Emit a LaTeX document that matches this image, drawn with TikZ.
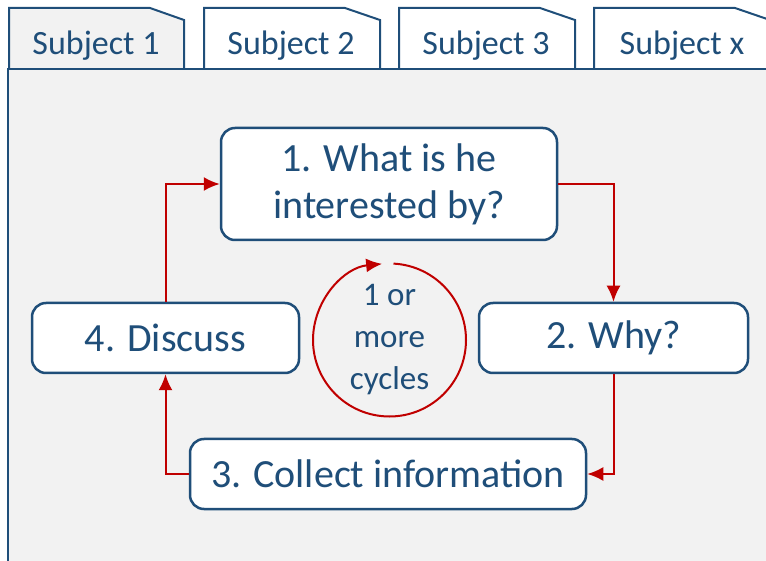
\documentclass[tikz,border=0pt]{standalone}
\usepackage{fontspec}
\setmainfont{Carlito}
\usetikzlibrary{arrows.meta}
\definecolor{navy}{HTML}{1F4E79}
\definecolor{cyclered}{HTML}{C00000}
\definecolor{panelgray}{HTML}{F2F2F2}

\begin{document}
\begin{tikzpicture}[x=1pt, y=1pt,
  tab/.style={draw=navy, line width=2pt, fill=#1},
  tablabel/.style={anchor=base, text=navy, font=\fontsize{34}{40}\selectfont},
  stepbox/.style={rectangle, draw=navy, line width=2.5pt, rounded corners=14pt, fill=white, text=navy, align=center, inner sep=0pt, font=\fontsize{40}{47}\selectfont},
  arrow/.style={-{Latex[length=16pt, width=14pt]}, line width=2pt, draw=cyclered}
]
  \useasboundingbox (0,0) rectangle (766,560);
  \clip (0,0) rectangle (766,560);

  % panel and tabs
  \fill[panelgray] (8,-20) rectangle (790,491);
  \draw[navy, line width=2pt] (8,-20) -- (8,491);
  \draw[tab=panelgray] (9,491) -- (9,552) -- (150,552) -- (184,540) -- (184,491);
  \draw[tab=white] (204,491) -- (204,552) -- (345,552) -- (380,540) -- (380,491);
  \draw[tab=white] (399,491) -- (399,552) -- (540,552) -- (575,540) -- (575,491);
  \draw[tab=white] (594,491) -- (594,552) -- (735,552) -- (770,540) -- (770,491);
  \draw[navy, line width=2pt] (7,491) -- (790,491);

  \node[tablabel] (tab1) at (96,505)  {Subject 1};
  \node[tablabel] (tab2) at (291,505) {Subject 2};
  \node[tablabel] (tab3) at (486,505) {Subject 3};
  \node[tablabel] (tabx) at (682,505) {Subject x};

  % steps of the cycle
  \node[stepbox, minimum width=336pt, minimum height=112pt] (what)    at (389,376)   {1. What is he\\interested by?};
  \node[stepbox, minimum width=269pt, minimum height=70pt]  (why)     at (613.5,222) {2. Why?};
  \node[stepbox, minimum width=396pt, minimum height=70pt]  (collect) at (388,86)    {3. Collect information};
  \node[stepbox, minimum width=267pt, minimum height=70pt]  (discuss) at (165.5,222) {4. Discuss};

  \node[circle, minimum size=153pt, inner sep=0pt, outer sep=0pt, align=center, text=navy,
        font=\fontsize{33}{42}\selectfont] (cyc) at (389.5,220) {1 or\\more\\cycles};

  \draw[arrow] (what.east) -| (why.north);
  \draw[arrow] (why.south) |- (collect.east);
  \draw[arrow] (collect.west) -| (discuss.south);
  \draw[arrow] (discuss.north) |- (what.west);
  \draw[arrow] (cyc.87) arc[start angle=87, end angle=-264.5, radius=76.5];
\end{tikzpicture}
\end{document}
